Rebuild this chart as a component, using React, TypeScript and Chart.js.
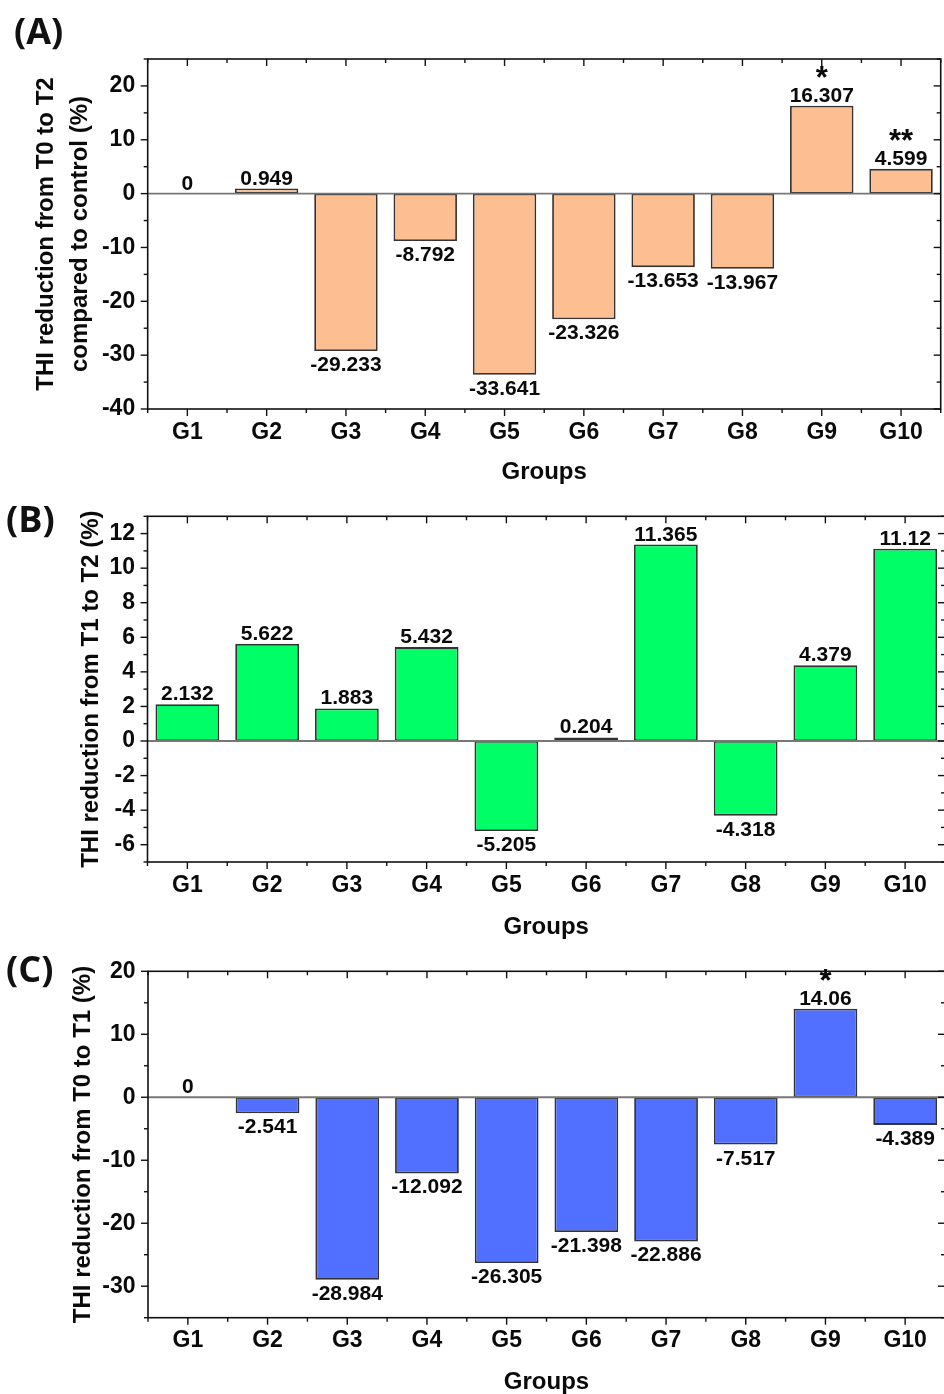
import React, { useEffect, useRef } from "react";
import { Chart, registerables } from "chart.js";

Chart.register(...registerables);

// ---------------- data ----------------
const groups = ["G1", "G2", "G3", "G4", "G5", "G6", "G7", "G8", "G9", "G10"];

const valuesA = [0, 0.949, -29.233, -8.792, -33.641, -23.326, -13.653, -13.967, 16.307, 4.599];
const valuesB = [2.132, 5.622, 1.883, 5.432, -5.205, 0.204, 11.365, -4.318, 4.379, 11.12];
const valuesC = [0, -2.541, -28.984, -12.092, -26.305, -21.398, -22.886, -7.517, 14.06, -4.389];

const starsA = ["", "", "", "", "", "", "", "", "*", "**"];
const starsB = ["", "", "", "", "", "", "", "", "", ""];
const starsC = ["", "", "", "", "", "", "", "", "*", ""];

const yTicksA = [-40, -30, -20, -10, 0, 10, 20];
const yTicksB = [-6, -4, -2, 0, 2, 4, 6, 8, 10, 12];
const yTicksC = [-30, -20, -10, 0, 10, 20];

const titleA = ["THI reduction from T0 to T2", "compared to control (%)"];
const titleB = "THI reduction from T1 to T2 (%)";
const titleC = "THI reduction from T0 to T1 (%)";
const xTitle = "Groups";

// ---------------- styling / layout ----------------
const FONT = "'Liberation Sans', Arial, Helvetica, sans-serif";
const CANVAS_W = 948;

type PanelCfg = {
  letter: string;
  letterX: number;
  letterY: number;
  values: number[];
  stars: string[];
  yTicks: number[];
  min: number;
  max: number;
  minorStep: number;
  title: string | string[];
  color: string;
  top: number;
  height: number;
  padTop: number;
  padRight: number;
  yWidth: number;
  xHeight: number;
  xTitlePad: number;
  yTitlePad: number;
};

const panels: PanelCfg[] = [
  {
    letter: "(A)", letterX: 14, letterY: 44,
    values: valuesA, stars: starsA, yTicks: yTicksA, min: -40, max: 25, minorStep: 5,
    title: titleA, color: "#FDBF91",
    top: 0, height: 495, padTop: 59, padRight: 7.3, yWidth: 147.7, xHeight: 86,
    xTitlePad: 5.6, yTitlePad: 28.6,
  },
  {
    letter: "(B)", letterX: 6, letterY: 42,
    values: valuesB, stars: starsB, yTicks: yTicksB, min: -7, max: 13, minorStep: 1,
    title: titleB, color: "#00FF66",
    top: 490, height: 455, padTop: 22.7, padRight: 3, yWidth: 147.5, xHeight: 83,
    xTitlePad: 0.6, yTitlePad: 73.6,
  },
  {
    letter: "(C)", letterX: 6, letterY: 37,
    values: valuesC, stars: starsC, yTicks: yTicksC, min: -35, max: 20, minorStep: 5,
    title: titleC, color: "#5170FF",
    top: 945, height: 460, padTop: 21, padRight: 3, yWidth: 148, xHeight: 87.3,
    xTitlePad: 5.6, yTitlePad: 65.6,
  },
];

function makeDecor(cfg: PanelCfg) {
  return {
    id: "decor",
    afterDatasetsDraw(chart: any) {
      const { ctx, chartArea: a, scales } = chart;
      const x = scales.x;
      const y = scales.y;
      const line = (x1: number, y1: number, x2: number, y2: number) => {
        ctx.beginPath();
        ctx.moveTo(x1, y1);
        ctx.lineTo(x2, y2);
        ctx.stroke();
      };
      ctx.save();
      // zero line
      const y0 = y.getPixelForValue(0);
      ctx.strokeStyle = "#777";
      ctx.lineWidth = 1.8;
      line(a.left, y0, a.right, y0);

      // frame
      ctx.strokeStyle = "#111";
      ctx.lineWidth = 1.6;
      ctx.strokeRect(a.left, a.top, a.right - a.left, a.bottom - a.top);

      // y ticks (left outward, right inward)
      ctx.lineWidth = 1.4;
      for (let v = cfg.min; v <= cfg.max + 1e-9; v += cfg.minorStep) {
        const py = y.getPixelForValue(v);
        const major = cfg.yTicks.some((t) => Math.abs(t - v) < 1e-9);
        const len = major ? 7 : 4;
        line(a.left - len, py, a.left, py);
        line(a.right - len, py, a.right, py);
      }
      // x ticks (bottom outward, top inward)
      for (let i = 0; i < groups.length; i++) {
        const px = x.getPixelForValue(i);
        line(px, a.bottom, px, a.bottom + 7);
        line(px, a.top, px, a.top + 7);
      }
      for (let i = 0; i <= groups.length; i++) {
        const px = x.getPixelForValue(i - 0.5);
        line(px, a.bottom, px, a.bottom + 4);
        line(px, a.top, px, a.top + 4);
      }

      // data labels
      const meta = chart.getDatasetMeta(0);
      ctx.fillStyle = "#0a0a0a";
      ctx.textAlign = "center";
      ctx.textBaseline = "alphabetic";
      meta.data.forEach((el: any, i: number) => {
        const v = cfg.values[i];
        const label = String(v);
        ctx.font = `bold 21px ${FONT}`;
        if (v >= 0) {
          const base = el.y - 4;
          ctx.fillText(label, el.x, base);
          if (cfg.stars[i]) {
            ctx.font = `bold 31px ${FONT}`;
            ctx.fillText(cfg.stars[i], el.x, base - 14);
          }
        } else {
          ctx.fillText(label, el.x, el.y + 20);
        }
      });

      // panel letter
      ctx.textAlign = "left";
      ctx.font = `bold 36px 'Open Sans', ${FONT}`;
      ctx.fillStyle = "#111";
      ctx.fillText(cfg.letter, cfg.letterX, cfg.letterY);
      ctx.restore();
    },
  };
}

function Panel({ cfg }: { cfg: PanelCfg }) {
  const ref = useRef<HTMLCanvasElement>(null);
  useEffect(() => {
    if (!ref.current) return;
    const chart = new Chart(ref.current, {
      type: "bar",
      data: {
        labels: groups,
        datasets: [
          {
            data: cfg.values,
            backgroundColor: cfg.color,
            borderColor: "#333",
            borderWidth: 1.8,
            borderSkipped: false,
            barPercentage: 0.8,
            categoryPercentage: 1,
          } as any,
        ],
      },
      options: {
        animation: false,
        responsive: false,
        maintainAspectRatio: false,
        layout: { padding: { left: 0, top: cfg.padTop, right: cfg.padRight, bottom: 0 } },
        plugins: { legend: { display: false }, tooltip: { enabled: false } },
        scales: {
          x: {
            type: "category",
            grid: { display: false, drawTicks: false },
            border: { display: false },
            ticks: {
              color: "#0a0a0a",
              font: { family: FONT, size: 23, weight: "bold" },
              padding: 9.5,
              maxRotation: 0,
              minRotation: 0,
              autoSkip: false,
            },
            title: {
              display: true,
              text: xTitle,
              color: "#0a0a0a",
              font: { family: FONT, size: 24, weight: "bold", lineHeight: 1.45 },
              padding: { top: 0, bottom: cfg.xTitlePad },
            },
            afterFit: (s: any) => {
              s.height = cfg.xHeight;
            },
          },
          y: {
            type: "linear",
            min: cfg.min,
            max: cfg.max,
            afterBuildTicks: (s: any) => {
              s.ticks = cfg.yTicks.map((v) => ({ value: v }));
            },
            grid: { display: false, drawTicks: false },
            border: { display: false },
            ticks: {
              color: "#0a0a0a",
              font: { family: FONT, size: 23, weight: "bold" },
              padding: 12.5,
            },
            title: {
              display: true,
              text: cfg.title as any,
              color: "#0a0a0a",
              font: { family: FONT, size: 24, weight: "bold", lineHeight: 1.45 },
              padding: { top: cfg.yTitlePad, bottom: 0 },
            },
            afterFit: (s: any) => {
              s.width = cfg.yWidth;
            },
          },
        },
      } as any,
      plugins: [makeDecor(cfg)],
    });
    return () => chart.destroy();
  }, [cfg]);
  return (
    <canvas
      ref={ref}
      width={CANVAS_W}
      height={cfg.height}
      style={{
        position: "absolute",
        left: 0,
        top: cfg.top,
        width: CANVAS_W,
        height: cfg.height,
        display: "block",
      }}
    />
  );
}

export default function App() {
  return (
    <div
      style={{
        position: "absolute",
        left: 0,
        top: 0,
        width: 944,
        height: 1394,
        overflow: "hidden",
        background: "#fff",
      }}
    >
      {panels.map((p) => (
        <Panel key={p.letter} cfg={p} />
      ))}
    </div>
  );
}
